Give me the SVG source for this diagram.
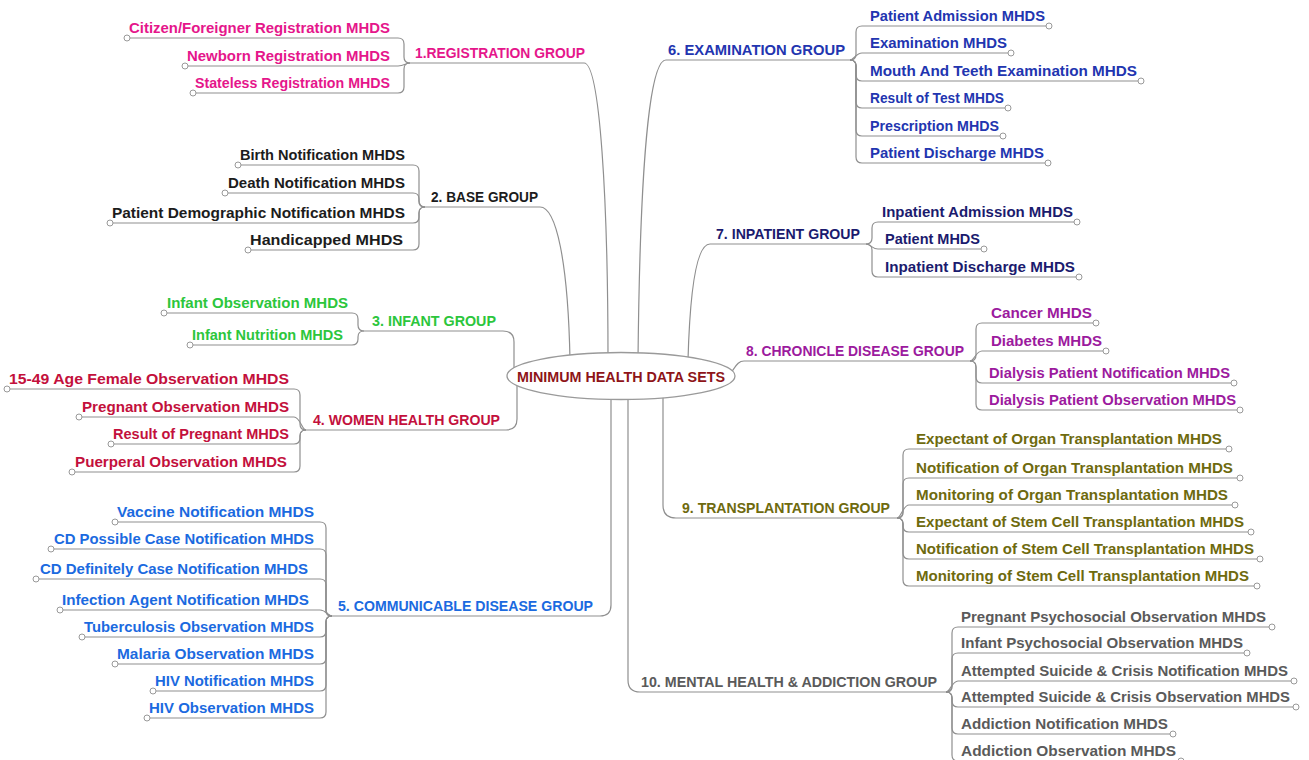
<svg xmlns="http://www.w3.org/2000/svg" width="1309" height="760" viewBox="0 0 1309 760">
<style>
text{font-family:"Liberation Sans",Arial,sans-serif;font-size:15px;font-weight:bold}
.l{text-anchor:end}
.c path{fill:none;stroke:#8f8f8f;stroke-width:1.2}
.ch{marker-end:url(#dot)}
.g1{fill:#e5168b}.g2{fill:#1c1c1c}.g3{fill:#2cc63c}.g4{fill:#c3103c}.g5{fill:#1b6ae0}
.g6{fill:#2235b0}.g7{fill:#1b1b6e}.g8{fill:#9c1a9e}.g9{fill:#6e6a0e}.g10{fill:#5a5a5a}
.root{font-size:14px;fill:#8e1418}
</style>
<defs>
<marker id="dot" markerUnits="userSpaceOnUse" markerWidth="8" markerHeight="8" refX="4" refY="4" overflow="visible">
<circle cx="4" cy="4" r="3" fill="#fff" stroke="#999" stroke-width="1"/>
</marker>
</defs>
<rect width="1309" height="760" fill="#fff"/>
<g id="connectors" class="c">
<!-- root to groups -->
<path d="M410 63 H584 C600 63 608 200 608 360"/>
<path d="M425 207 H540 C556 207 568 260 570 360"/>
<path d="M364 331 H503 Q514 331 514 342 V372"/>
<path d="M306 430 H506 Q517 430 517 419 V380"/>
<path d="M332 616 H600 Q611 616 611 605 V390"/>
<path d="M850 60 H666 C650 60 640 160 638 360"/>
<path d="M866 244 H710 C696 244 690 290 688 360"/>
<path d="M970 361 H744 C738 361 736 366 730 374"/>
<path d="M897 518 H676 Q663 518 663 505 V390"/>
<path d="M946 692 H640 Q628 692 628 680 V390"/>
<!-- G1 -->
<path class="ch" d="M410 63 Q404 63 404 57 V44 Q404 38 398 38 H127"/>
<path class="ch" d="M410 63 C406 63 404 66 398 66 H185"/>
<path class="ch" d="M410 63 Q404 63 404 69 V87 Q404 93 398 93 H193"/>
<!-- G2 -->
<path class="ch" d="M425 207 Q419 207 419 201 V171 Q419 165 413 165 H238"/>
<path class="ch" d="M425 207 Q419 207 419 201 V199 Q419 193 413 193 H225"/>
<path class="ch" d="M425 207 Q419 207 419 213 V217 Q419 223 413 223 H110"/>
<path class="ch" d="M425 207 Q419 207 419 213 V244 Q419 250 413 250 H248"/>
<!-- G3 -->
<path class="ch" d="M364 331 Q358 331 358 325 V319 Q358 313 352 313 H164"/>
<path class="ch" d="M364 331 Q358 331 358 337 V339 Q358 345 352 345 H190"/>
<!-- G4 -->
<path class="ch" d="M306 430 Q300 430 300 424 V395 Q300 389 294 389 H7"/>
<path class="ch" d="M306 430 C302 430 300 417 294 417 H79"/>
<path class="ch" d="M306 430 Q300 430 300 436 V438 Q300 444 294 444 H111"/>
<path class="ch" d="M306 430 Q300 430 300 436 V466 Q300 472 294 472 H72"/>
<!-- G5 -->
<path class="ch" d="M332 616 Q326 616 326 610 V528 Q326 522 320 522 H115"/>
<path class="ch" d="M332 616 Q326 616 326 610 V555 Q326 549 320 549 H51"/>
<path class="ch" d="M332 616 Q326 616 326 610 V585 Q326 579 320 579 H36"/>
<path class="ch" d="M332 616 C328 616 326 610 320 610 H60"/>
<path class="ch" d="M332 616 Q326 616 326 622 V631 Q326 637 320 637 H82"/>
<path class="ch" d="M332 616 Q326 616 326 622 V658 Q326 664 320 664 H115"/>
<path class="ch" d="M332 616 Q326 616 326 622 V685 Q326 691 320 691 H153"/>
<path class="ch" d="M332 616 Q326 616 326 622 V712 Q326 718 320 718 H147"/>
<!-- G6 -->
<path class="ch" d="M850 60 Q856 60 856 54 V32 Q856 26 862 26 H1049"/>
<path class="ch" d="M850 60 C854 60 856 53 862 53 H1011"/>
<path class="ch" d="M850 60 Q856 60 856 66 V75 Q856 81 862 81 H1141"/>
<path class="ch" d="M850 60 Q856 60 856 66 V102 Q856 108 862 108 H1008"/>
<path class="ch" d="M850 60 Q856 60 856 66 V130 Q856 136 862 136 H1003"/>
<path class="ch" d="M850 60 Q856 60 856 66 V157 Q856 163 862 163 H1048"/>
<!-- G7 -->
<path class="ch" d="M866 244 Q872 244 872 238 V228 Q872 222 878 222 H1077"/>
<path class="ch" d="M866 244 C870 244 872 249 878 249 H984"/>
<path class="ch" d="M866 244 Q872 244 872 250 V271 Q872 277 878 277 H1079"/>
<!-- G8 -->
<path class="ch" d="M970 361 Q976 361 976 355 V329 Q976 323 982 323 H1096"/>
<path class="ch" d="M970 361 C974 361 976 351 982 351 H1106"/>
<path class="ch" d="M970 361 Q976 361 976 367 V377 Q976 383 982 383 H1234"/>
<path class="ch" d="M970 361 Q976 361 976 367 V404 Q976 410 982 410 H1240"/>
<!-- G9 -->
<path class="ch" d="M897 518 Q903 518 903 512 V455 Q903 449 909 449 H1229"/>
<path class="ch" d="M897 518 Q903 518 903 512 V484 Q903 478 909 478 H1240"/>
<path class="ch" d="M897 518 C901 518 903 505 909 505 H1235"/>
<path class="ch" d="M897 518 Q903 518 903 524 V526 Q903 532 909 532 H1251"/>
<path class="ch" d="M897 518 Q903 518 903 524 V553 Q903 559 909 559 H1260"/>
<path class="ch" d="M897 518 Q903 518 903 524 V580 Q903 586 909 586 H1257"/>
<!-- G10 -->
<path class="ch" d="M946 692 Q952 692 952 686 V633 Q952 627 958 627 H1272"/>
<path class="ch" d="M946 692 Q952 692 952 686 V659 Q952 653 958 653 H1247"/>
<path class="ch" d="M946 692 C950 692 952 681 958 681 H1294"/>
<path class="ch" d="M946 692 Q952 692 952 698 V701 Q952 707 958 707 H1296"/>
<path class="ch" d="M946 692 Q952 692 952 698 V728 Q952 734 958 734 H1173"/>
<path class="ch" d="M946 692 Q952 692 952 698 V755 Q952 761 958 761 H1181"/>
</g>
<g id="root">
<ellipse cx="621" cy="376" rx="114" ry="23.5" fill="#fff" stroke="#9a9a9a" stroke-width="1.3"/>
<text class="root" x="517" y="382" textLength="208" lengthAdjust="spacingAndGlyphs">MINIMUM HEALTH DATA SETS</text>
</g>
<!-- Group 1 -->
<g id="g1"><text class="g1" x="415" y="58" textLength="170" lengthAdjust="spacingAndGlyphs">1.REGISTRATION GROUP</text></g>
<g id="g1-1"><text class="g1 l" x="390" y="33" textLength="261" lengthAdjust="spacingAndGlyphs">Citizen/Foreigner Registration MHDS</text></g>
<g id="g1-2"><text class="g1 l" x="390" y="61" textLength="203" lengthAdjust="spacingAndGlyphs">Newborn Registration MHDS</text></g>
<g id="g1-3"><text class="g1 l" x="390" y="88" textLength="195" lengthAdjust="spacingAndGlyphs">Stateless Registration MHDS</text></g>
<!-- Group 2 -->
<g id="g2"><text class="g2" x="431" y="202" textLength="107" lengthAdjust="spacingAndGlyphs">2. BASE GROUP</text></g>
<g id="g2-1"><text class="g2 l" x="405" y="160" textLength="165" lengthAdjust="spacingAndGlyphs">Birth Notification MHDS</text></g>
<g id="g2-2"><text class="g2 l" x="405" y="188" textLength="177" lengthAdjust="spacingAndGlyphs">Death Notification MHDS</text></g>
<g id="g2-3"><text class="g2 l" x="405" y="218" textLength="293" lengthAdjust="spacingAndGlyphs">Patient Demographic Notification MHDS</text></g>
<g id="g2-4"><text class="g2 l" x="403" y="245" textLength="153" lengthAdjust="spacingAndGlyphs">Handicapped MHDS</text></g>
<!-- Group 3 -->
<g id="g3"><text class="g3" x="372" y="326" textLength="124" lengthAdjust="spacingAndGlyphs">3. INFANT GROUP</text></g>
<g id="g3-1"><text class="g3 l" x="348" y="308" textLength="181" lengthAdjust="spacingAndGlyphs">Infant Observation MHDS</text></g>
<g id="g3-2"><text class="g3 l" x="343" y="340" textLength="151" lengthAdjust="spacingAndGlyphs">Infant Nutrition MHDS</text></g>
<!-- Group 4 -->
<g id="g4"><text class="g4" x="313" y="425" textLength="187" lengthAdjust="spacingAndGlyphs">4. WOMEN HEALTH GROUP</text></g>
<g id="g4-1"><text class="g4 l" x="289" y="384" textLength="280" lengthAdjust="spacingAndGlyphs">15-49 Age Female Observation MHDS</text></g>
<g id="g4-2"><text class="g4 l" x="289" y="412" textLength="207" lengthAdjust="spacingAndGlyphs">Pregnant Observation MHDS</text></g>
<g id="g4-3"><text class="g4 l" x="289" y="439" textLength="176" lengthAdjust="spacingAndGlyphs">Result of Pregnant MHDS</text></g>
<g id="g4-4"><text class="g4 l" x="287" y="467" textLength="212" lengthAdjust="spacingAndGlyphs">Puerperal Observation MHDS</text></g>
<!-- Group 5 -->
<g id="g5"><text class="g5" x="338" y="611" textLength="255" lengthAdjust="spacingAndGlyphs">5. COMMUNICABLE DISEASE GROUP</text></g>
<g id="g5-1"><text class="g5 l" x="314" y="517" textLength="197" lengthAdjust="spacingAndGlyphs">Vaccine Notification MHDS</text></g>
<g id="g5-2"><text class="g5 l" x="314" y="544" textLength="260" lengthAdjust="spacingAndGlyphs">CD Possible Case Notification MHDS</text></g>
<g id="g5-3"><text class="g5 l" x="308" y="574" textLength="268" lengthAdjust="spacingAndGlyphs">CD Definitely Case Notification MHDS</text></g>
<g id="g5-4"><text class="g5 l" x="309" y="605" textLength="247" lengthAdjust="spacingAndGlyphs">Infection Agent Notification MHDS</text></g>
<g id="g5-5"><text class="g5 l" x="314" y="632" textLength="230" lengthAdjust="spacingAndGlyphs">Tuberculosis Observation MHDS</text></g>
<g id="g5-6"><text class="g5 l" x="314" y="659" textLength="197" lengthAdjust="spacingAndGlyphs">Malaria Observation MHDS</text></g>
<g id="g5-7"><text class="g5 l" x="314" y="686" textLength="159" lengthAdjust="spacingAndGlyphs">HIV Notification MHDS</text></g>
<g id="g5-8"><text class="g5 l" x="314" y="713" textLength="165" lengthAdjust="spacingAndGlyphs">HIV Observation MHDS</text></g>
<!-- Group 6 -->
<g id="g6"><text class="g6" x="668" y="55" textLength="177" lengthAdjust="spacingAndGlyphs">6. EXAMINATION GROUP</text></g>
<g id="g6-1"><text class="g6" x="870" y="21" textLength="175" lengthAdjust="spacingAndGlyphs">Patient Admission MHDS</text></g>
<g id="g6-2"><text class="g6" x="870" y="48" textLength="137" lengthAdjust="spacingAndGlyphs">Examination MHDS</text></g>
<g id="g6-3"><text class="g6" x="870" y="76" textLength="267" lengthAdjust="spacingAndGlyphs">Mouth And Teeth Examination MHDS</text></g>
<g id="g6-4"><text class="g6" x="870" y="103" textLength="134" lengthAdjust="spacingAndGlyphs">Result of Test MHDS</text></g>
<g id="g6-5"><text class="g6" x="870" y="131" textLength="129" lengthAdjust="spacingAndGlyphs">Prescription MHDS</text></g>
<g id="g6-6"><text class="g6" x="870" y="158" textLength="174" lengthAdjust="spacingAndGlyphs">Patient Discharge MHDS</text></g>
<!-- Group 7 -->
<g id="g7"><text class="g7" x="716" y="239" textLength="144" lengthAdjust="spacingAndGlyphs">7. INPATIENT GROUP</text></g>
<g id="g7-1"><text class="g7" x="882" y="217" textLength="191" lengthAdjust="spacingAndGlyphs">Inpatient Admission MHDS</text></g>
<g id="g7-2"><text class="g7" x="885" y="244" textLength="95" lengthAdjust="spacingAndGlyphs">Patient MHDS</text></g>
<g id="g7-3"><text class="g7" x="885" y="272" textLength="190" lengthAdjust="spacingAndGlyphs">Inpatient Discharge MHDS</text></g>
<!-- Group 8 -->
<g id="g8"><text class="g8" x="746" y="356" textLength="218" lengthAdjust="spacingAndGlyphs">8. CHRONICLE DISEASE GROUP</text></g>
<g id="g8-1"><text class="g8" x="991" y="318" textLength="101" lengthAdjust="spacingAndGlyphs">Cancer MHDS</text></g>
<g id="g8-2"><text class="g8" x="991" y="346" textLength="111" lengthAdjust="spacingAndGlyphs">Diabetes MHDS</text></g>
<g id="g8-3"><text class="g8" x="989" y="378" textLength="241" lengthAdjust="spacingAndGlyphs">Dialysis Patient Notification MHDS</text></g>
<g id="g8-4"><text class="g8" x="989" y="405" textLength="247" lengthAdjust="spacingAndGlyphs">Dialysis Patient Observation MHDS</text></g>
<!-- Group 9 -->
<g id="g9"><text class="g9" x="682" y="513" textLength="208" lengthAdjust="spacingAndGlyphs">9. TRANSPLANTATION GROUP</text></g>
<g id="g9-1"><text class="g9" x="916" y="444" textLength="306" lengthAdjust="spacingAndGlyphs">Expectant of Organ Transplantation MHDS</text></g>
<g id="g9-2"><text class="g9" x="916" y="473" textLength="317" lengthAdjust="spacingAndGlyphs">Notification of Organ Transplantation MHDS</text></g>
<g id="g9-3"><text class="g9" x="916" y="500" textLength="312" lengthAdjust="spacingAndGlyphs">Monitoring of Organ Transplantation MHDS</text></g>
<g id="g9-4"><text class="g9" x="916" y="527" textLength="328" lengthAdjust="spacingAndGlyphs">Expectant of Stem Cell Transplantation MHDS</text></g>
<g id="g9-5"><text class="g9" x="916" y="554" textLength="338" lengthAdjust="spacingAndGlyphs">Notification of Stem Cell Transplantation MHDS</text></g>
<g id="g9-6"><text class="g9" x="916" y="581" textLength="333" lengthAdjust="spacingAndGlyphs">Monitoring of Stem Cell Transplantation MHDS</text></g>
<!-- Group 10 -->
<g id="g10"><text class="g10" x="641" y="687" textLength="296" lengthAdjust="spacingAndGlyphs">10. MENTAL HEALTH &amp; ADDICTION GROUP</text></g>
<g id="g10-1"><text class="g10" x="961" y="622" textLength="305" lengthAdjust="spacingAndGlyphs">Pregnant Psychosocial Observation MHDS</text></g>
<g id="g10-2"><text class="g10" x="961" y="648" textLength="282" lengthAdjust="spacingAndGlyphs">Infant Psychosocial Observation MHDS</text></g>
<g id="g10-3"><text class="g10" x="961" y="676" textLength="327" lengthAdjust="spacingAndGlyphs">Attempted Suicide &amp; Crisis Notification MHDS</text></g>
<g id="g10-4"><text class="g10" x="961" y="702" textLength="329" lengthAdjust="spacingAndGlyphs">Attempted Suicide &amp; Crisis Observation MHDS</text></g>
<g id="g10-5"><text class="g10" x="961" y="729" textLength="207" lengthAdjust="spacingAndGlyphs">Addiction Notification MHDS</text></g>
<g id="g10-6"><text class="g10" x="961" y="756" textLength="215" lengthAdjust="spacingAndGlyphs">Addiction Observation MHDS</text></g>
</svg>
